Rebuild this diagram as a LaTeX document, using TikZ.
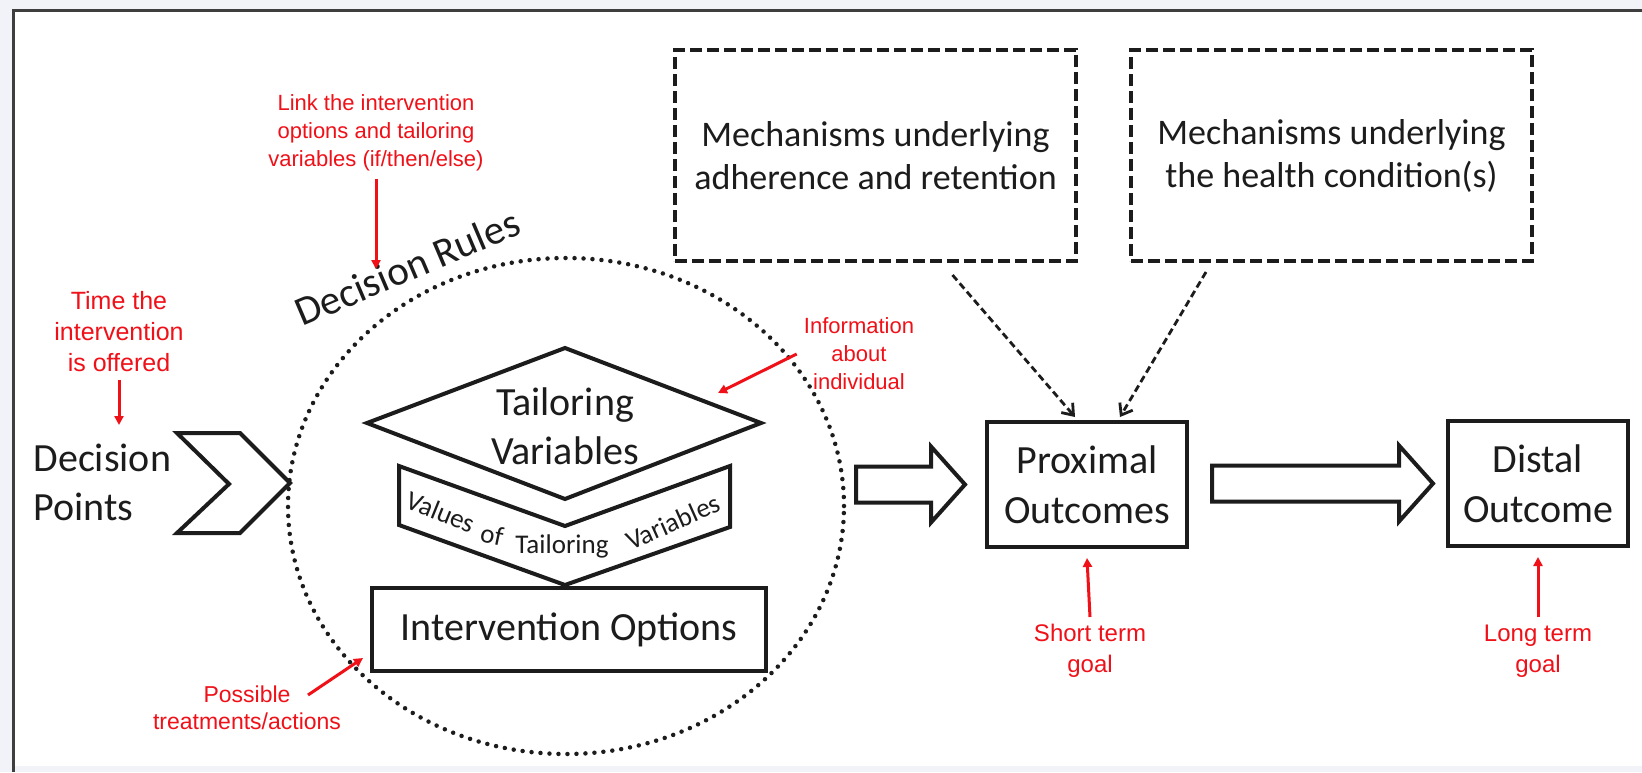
\documentclass[tikz,border=0pt]{standalone}
\usepackage{fontspec}
\setmainfont{Carlito}
\newfontfamily\notefont{Liberation Sans}
\usetikzlibrary{calc,arrows.meta,shapes.geometric}
\definecolor{ink}{RGB}{28,28,28}
\definecolor{notered}{RGB}{240,16,24}
\definecolor{pagegray}{RGB}{241,243,248}
\def\hollowarrow(#1)(#2){\draw[line width=4pt, color=ink, line join=miter] let \p1=(#1), \p2=(#2) in (\x1,\y2+18pt) -- (\x2-34pt,\y2+18pt) -- (\x2-34pt,\y2+38pt) -- (\x2,\y2) -- (\x2-34pt,\y2-38pt) -- (\x2-34pt,\y2-18pt) -- (\x1,\y2-18pt) -- cycle;}

\begin{document}
\begin{tikzpicture}[x=1pt, y=-1pt,
		outbox/.style={draw=ink, line width=4pt, outer sep=0pt, inner sep=0pt, align=center, text=ink},
		bigtext/.style={text=ink, font=\fontsize{40}{49}\selectfont},
		valword/.style={text=ink, inner sep=0.5pt, font=\fontsize{27}{30}\selectfont},
		rednote/.style={text=notered, align=center, outer sep=4pt},
		redarrow/.style={draw=notered, line width=3pt, -{Triangle[length=9pt,width=9pt]}},
		mecharrow/.style={draw=ink, line width=2.8pt, dash pattern=on 7pt off 4pt, -{Straight Barb[length=10pt,width=15pt]}}]
		%%%%% START %%%%%
		
		\useasboundingbox (0,0) rectangle (1642,772);
		\fill[pagegray] (0,0) rectangle (1642,772);
		\fill[white] (13,9) rectangle (1642,766);
		\draw[line width=3pt, color=ink!85] (1642,10) -- (13,10) -- (13,772);
		
		% decision points
		\node[bigtext, align=left, anchor=west] (dp) at (30,482) {Decision\\Points};
		\draw[line width=4pt, color=ink, line join=miter] (177,433) -- (240,433) -- (290,483) -- (240,533) -- (177,533) -- (229,484) -- cycle;
		
		% decision rules
		\node[ellipse, draw=ink, line width=4.5pt, dash pattern=on 0pt off 9pt, line cap=round, outer sep=0pt, minimum width=556pt, minimum height=496pt] (rules) at (566,506) {};
		\node[text=ink, font=\fontsize{41}{49}\selectfont, rotate=23, anchor=base west, inner sep=0pt] (rulestitle) at (302,327) {Decision Rules};
		
		\draw[line width=4pt, color=ink] (565,348) -- (761,423) -- (565,499) -- (367,423) -- cycle;
		\node[bigtext, align=center] (tv) at (565,426) {Tailoring\\Variables};
		
		\draw[line width=4pt, color=ink] (399,466) -- (565,526) -- (730,466) -- (730,527) -- (565,585) -- (399,525) -- cycle;
		\node[valword, rotate=-22] (vals1) at (441,512) {Values};
		\node[valword, rotate=-12] (vals2) at (492,535) {of};
		\node[valword] (vals3) at (562,546) {Tailoring};
		\node[valword, rotate=24] (vals4) at (673,522) {Variables};
		
		\node[outbox, font=\fontsize{40}{49}\selectfont, minimum width=394pt, minimum height=83pt] (io) at (569,629.5) {Intervention Options};
		
		% mechanisms
		\node[outbox, dash pattern=on 12pt off 5pt, font=\fontsize{36}{43}\selectfont, minimum width=401pt, minimum height=211pt] (mech1) at (875.5,155.5) {Mechanisms underlying\\adherence and retention};
		\node[outbox, dash pattern=on 12pt off 5pt, font=\fontsize{36}{43}\selectfont, minimum width=401pt, minimum height=211pt] (mech2) at (1331.5,155.5) {Mechanisms underlying\\the health condition(s)};
		
		% outcomes
		\node[outbox, font=\fontsize{40}{50}\selectfont, minimum width=200pt, minimum height=125pt] (prox) at (1087,484.5) {Proximal\\Outcomes};
		\node[outbox, font=\fontsize{40}{50}\selectfont, minimum width=180pt, minimum height=125pt] (dist) at (1538,483.5) {Distal\\Outcome};
		
		\hollowarrow([xshift=12pt]rules.east)([xshift=-22pt]prox.west)
		\hollowarrow([xshift=25pt]prox.east)([xshift=-15pt]dist.west)
		
		\draw[mecharrow] ([xshift=77pt,yshift=-14pt]mech1.south) -- ([xshift=-12pt,yshift=5pt]prox.north);
		\draw[mecharrow] ([xshift=-125.5pt,yshift=-11pt]mech2.south) -- ([xshift=33pt,yshift=5pt]prox.north);
		
		% red notes
		\node[rednote, font=\notefont\fontsize{22}{28}\selectfont] (link) at (376,133) {Link the intervention\\options and tailoring\\variables (if/then/else)};
		\coordinate (linktip) at (376,269);
		\draw[redarrow] (link) -- (linktip);
		
		\node[rednote, font=\notefont\fontsize{25}{31}\selectfont] (when) at (119,332) {Time the\\intervention\\is offered};
		\coordinate (whentip) at (119,425);
		\draw[redarrow] (when) -- (whentip);
		
		\node[rednote, font=\notefont\fontsize{22}{28}\selectfont] (info) at (859,354) {Information\\about\\individual};
		\coordinate (infotip) at (718,393);
		\draw[redarrow] (info.west) -- (infotip);
		
		\node[rednote, font=\notefont\fontsize{23}{27}\selectfont] (poss) at (247,708) {Possible\\treatments/actions};
		\coordinate (posstip) at (363,658);
		\draw[redarrow] ([xshift=61pt,yshift=13pt]poss.center) -- (posstip);
		
		\node[rednote, font=\notefont\fontsize{24}{31}\selectfont] (short) at (1090,651) {Short term\\goal};
		\draw[redarrow] (short.north) -- ([yshift=-11pt]prox.south);
		
		\node[rednote, font=\notefont\fontsize{24}{31}\selectfont] (long) at (1538,651) {Long term\\goal};
		\draw[redarrow] (long.north) -- ([yshift=-11pt]dist.south);
		
		%%%%% END %%%%%
	\end{tikzpicture}
\end{document}
